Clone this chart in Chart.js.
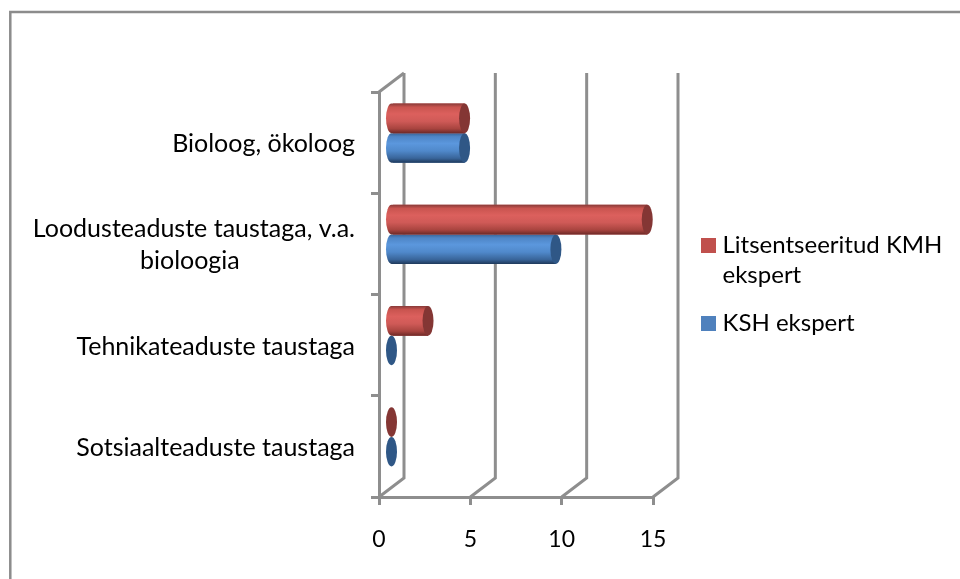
<!DOCTYPE html>
<html>
<head>
<meta charset="utf-8">
<style>html,body{margin:0;padding:0;background:#fff}#w{width:960px;height:579px;position:relative}</style>
<script src="https://cdn.jsdelivr.net/npm/chart.js@4/dist/chart.umd.min.js"></script>
</head>
<body>
<div id="w"><canvas id="c" width="960" height="579"></canvas></div>
<script>
const categories = [
  'Bioloog, ökoloog',
  ['Loodusteaduste taustaga, v.a.', 'bioloogia'],
  'Tehnikateaduste taustaga',
  'Sotsiaalteaduste taustaga'
];
const seriesNames = [['Litsentseeritud KMH', 'ekspert'], ['KSH ekspert']];
const kmhValues = [4, 14, 2, 0];
const kshValues = [4, 9, 0, 0];
const xTicks = [0, 5, 10, 15];

const FONT = 'Lato, Carlito, Calibri, sans-serif';
const GRID = '#8e8e8e';
const TEXT = '#000000';
const DX = 25, DY = 19;            // depth of the 3D box
const SHIFT_X = 12.5, SHIFT_Y = -9.5; // bars sit mid-depth
const CAP_RX = 5.5;
const palette = [
  {base:'#c0504d', cap:'#843634', stops:['#8a3b39','#c9544f','#dc605d','#cf5a57','#a8443f','#6e2a28']},
  {base:'#4f81bd', cap:'#2f5786', stops:['#3a6496','#4e85c6','#5b97dd','#5089cb','#39659a','#1f3a5c']}
];

const box3d = {
  id:'box3d',
  afterLayout(chart){
    const l = chart.legend;
    const w = l.width, h = l.height;
    l.left = 688.5; l.right = l.left + w; l.top = 215.5; l.bottom = l.top + h;
  },
  beforeDatasetsDraw(chart){
    const {ctx, scales:{x,y}} = chart;
    ctx.save();
    ctx.strokeStyle = GRID; ctx.lineWidth = 3; ctx.lineCap='butt';
    const bottom = y.bottom, top = y.top;
    xTicks.forEach(t=>{
      const px = x.getPixelForValue(t);
      ctx.beginPath();
      ctx.moveTo(px, bottom);
      ctx.lineTo(px+DX, bottom-DY);
      ctx.lineTo(px+DX, top-DY);
      ctx.stroke();
    });
    const x0 = x.getPixelForValue(0);
    ctx.beginPath(); ctx.moveTo(x0, top); ctx.lineTo(x0+DX, top-DY); ctx.stroke();
    ctx.restore();
  },
  beforeDatasetDraw(chart){
    chart.ctx.save();
    chart.ctx.translate(SHIFT_X, SHIFT_Y);
  },
  afterDatasetDraw(chart, args){
    const ctx = chart.ctx;
    const p = palette[args.index];
    const x0 = chart.scales.x.getPixelForValue(0);
    args.meta.data.forEach(bar=>{
      const half = bar.height/2, top = bar.y-half, bottom = bar.y+half;
      const g = ctx.createLinearGradient(0, top, 0, bottom);
      const pos = [0,0.12,0.35,0.6,0.85,1];
      p.stops.forEach((c,i)=>g.addColorStop(pos[i],c));
      if (bar.x > x0) {
        ctx.fillStyle = g;
        ctx.beginPath();
        ctx.moveTo(bar.x, top);
        ctx.lineTo(x0, top);
        ctx.ellipse(x0, bar.y, CAP_RX, half, 0, -Math.PI/2, Math.PI/2, true);
        ctx.lineTo(bar.x, bottom);
        ctx.closePath();
        ctx.fill();
      }
      ctx.fillStyle = p.cap;
      ctx.beginPath();
      ctx.ellipse(bar.x, bar.y, CAP_RX, half, 0, 0, Math.PI*2);
      ctx.fill();
    });
    ctx.restore();
  },
  beforeDraw(chart){
    const ctx = chart.ctx;
    ctx.save();
    ctx.fillStyle='#fff'; ctx.fillRect(0,0,960,579);
    ctx.strokeStyle='#8c8c8c'; ctx.lineWidth=2.5;
    ctx.beginPath(); ctx.moveTo(10.3,579); ctx.lineTo(10.3,12); ctx.lineTo(960,12); ctx.stroke();
    ctx.restore();
  }
};

new Chart(document.getElementById('c'), {
  type:'bar',
  plugins:[box3d],
  data:{
    labels:categories,
    datasets:[
      {label:seriesNames[0], data:kmhValues, backgroundColor:palette[0].base, borderWidth:0, categoryPercentage:0.583, barPercentage:1},
      {label:seriesNames[1], data:kshValues, backgroundColor:palette[1].base, borderWidth:0, categoryPercentage:0.583, barPercentage:1}
    ]
  },
  options:{
    indexAxis:'y',
    responsive:false,
    animation:false,
    layout:{padding:{left:0,top:92,right:307,bottom:0}},
    plugins:{
      tooltip:{enabled:false},
      legend:{
        position:'chartArea',
        align:'start',
        labels:{
          color:TEXT,
          font:{family:FONT,size:24,lineHeight:1.25},
          boxWidth:4, boxHeight:4, padding:18,
          generateLabels(chart){
            return chart.data.datasets.map((d,i)=>({
              text:d.label, fillStyle:d.backgroundColor, strokeStyle:d.backgroundColor,
              lineWidth:11, datasetIndex:i, fontColor:TEXT
            }));
          }
        }
      }
    },
    scales:{
      x:{
        min:0,max:15,
        afterFit(s){s.height=82;},
        afterBuildTicks(s){s.ticks=xTicks.map(v=>({value:v}));},
        border:{display:true,color:GRID,width:3},
        grid:{display:true,drawOnChartArea:false,drawTicks:true,tickLength:8,color:GRID,lineWidth:3},
        ticks:{color:TEXT,padding:21,maxRotation:0,font:{family:FONT,size:23}}
      },
      y:{
        type:'category',
        afterFit(s){s.width=379;},
        border:{display:true,color:GRID,width:3},
        grid:{display:true,drawOnChartArea:false,drawTicks:true,tickLength:8,color:GRID,lineWidth:3,offset:true},
        ticks:{
          color:TEXT,padding:16,labelOffset:1.5,autoSkip:false,font:{family:FONT,size:25,lineHeight:1.28},
          callback(v,i){
            const c = categories[i];
            return Array.isArray(c) ? [c[0], c[1]+' '.repeat(18)] : c;
          }
        }
      }
    }
  }
});
</script>
</body>
</html>
